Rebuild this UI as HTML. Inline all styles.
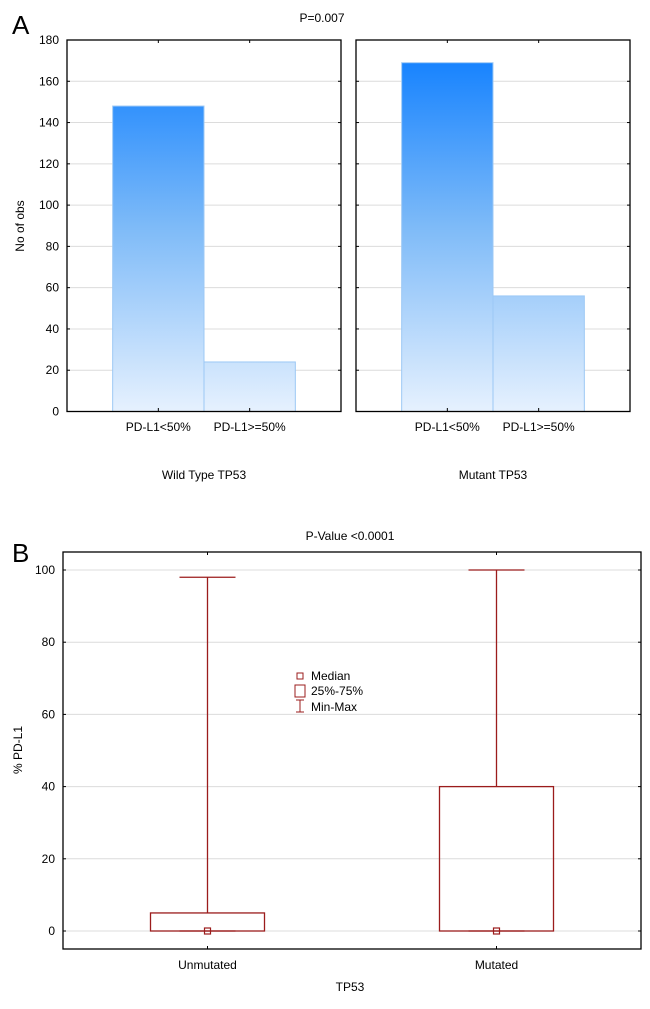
<!DOCTYPE html>
<html><head><meta charset="utf-8"><style>
body{margin:0;background:#fff;}
svg text{font-family:"Liberation Sans",Arial,sans-serif;fill:#000;}
</style></head><body>
<svg id="chart" width="650" height="1004" xmlns="http://www.w3.org/2000/svg">
<defs>
<linearGradient id="g" x1="0" y1="0" x2="0" y2="1" gradientUnits="userSpaceOnUse" x1v="0">
</linearGradient>
</defs>
<text x="12" y="34" font-size="26">A</text>
<text x="322" y="22" font-size="12" text-anchor="middle">P=0.007</text>
<text x="12" y="562" font-size="26">B</text>
<text x="350" y="540" font-size="12" text-anchor="middle">P-Value &lt;0.0001</text>
<g id="A"></g><g id="B"></g>
</svg>
<script>
const aCategories=["PD-L1<50%","PD-L1>=50%"];
const aGroups=["Wild Type TP53","Mutant TP53"];
const aWild=[148,24];
const aMutant=[169,56];
const aTicks=[0,20,40,60,80,100,120,140,160,180];
const bCategories=["Unmutated","Mutated"];
const bMin=[0,0];
const bQ1=[0,0];
const bMedian=[0,0];
const bQ3=[5,40];
const bMax=[98,100];
const bTicks=[0,20,40,60,80,100];
const NS="http://www.w3.org/2000/svg";
function mk(p,t,a,name,inter){const e=document.createElementNS(NS,t);for(const k in a)e.setAttribute(k,a[k]);


p.appendChild(e);return e;}
const svg=document.getElementById('chart');
const defs=svg.querySelector('defs');
const A=document.getElementById('A');
const yA=v=>411.5-(v/180)*371.5;
const frames=[[67,341],[356,630]];
const series=[aWild,aMutant];
// gradient
const gr=mk(defs,'linearGradient',{id:'barg',x1:0,y1:40,x2:0,y2:411.5,gradientUnits:'userSpaceOnUse'},'bar-gradient',false);
[[0,'#0a7cff'],[0.5,'#7dbaf8'],[1,'#e6f1fe']].forEach(s=>mk(gr,'stop',{offset:s[0],'stop-color':s[1]},'gradient-stop',false));
frames.forEach((f,i)=>{
 const [x0,x1]=f,w=x1-x0;
 aTicks.forEach(t=>{if(t>0&&t<180)mk(A,'line',{x1:x0,x2:x1,y1:yA(t),y2:yA(t),stroke:'#dcdcdc','stroke-width':1},'gridline',false);
  mk(A,'line',{x1:x0,x2:x0+3,y1:yA(t),y2:yA(t),stroke:'#000'},'y-tick',false);
  mk(A,'line',{x1:x1-3,x2:x1,y1:yA(t),y2:yA(t),stroke:'#000'},'y-tick',false);
  if(i==0){const tx=mk(A,'text',{x:x0-8,y:yA(t)+4,'font-size':12,'text-anchor':'end'},'y-tick-label',false);tx.textContent=t;}});
 const bw=w/3;
 series[i].forEach((v,j)=>{
  const bx=x0+w/6+j*bw;
  mk(A,'rect',{x:bx,y:yA(v),width:bw,height:yA(0)-yA(v),fill:'url(#barg)',stroke:'#9cc8f5','stroke-width':1},'bar-'+(i?'mutant':'wild')+'-'+j,false);
  const cx=bx+bw/2;
  mk(A,'line',{x1:cx,x2:cx,y1:411.5,y2:408,stroke:'#000'},'x-tick',false);
  mk(A,'line',{x1:cx,x2:cx,y1:40,y2:43,stroke:'#000'},'x-tick',false);
  const tx=mk(A,'text',{x:cx,y:431,'font-size':12,'text-anchor':'middle'},'x-tick-label',false);tx.textContent=aCategories[j];
 });
 mk(A,'rect',{x:x0,y:40,width:w,height:371.5,fill:'none',stroke:'#000','stroke-width':1.3},'plot-frame',false);
 const g=mk(A,'text',{x:x0+w/2,y:479,'font-size':12,'text-anchor':'middle'},'group-label',false);g.textContent=aGroups[i];
});
const yl=mk(A,'text',{x:24,y:226,'font-size':12,'text-anchor':'middle',transform:'rotate(-90 24 226)'},'y-axis-title',false);yl.textContent='No of obs';
// Panel B
const B=document.getElementById('B');
const bx0=63,bx1=641,by0=552,by1=949;
const yB=v=>931-(v/100)*361;
const xB=i=>bx0+(bx1-bx0)*(i*2+1)/4;
bTicks.forEach(t=>{mk(B,'line',{x1:bx0,x2:bx1,y1:yB(t),y2:yB(t),stroke:'#dcdcdc'},'gridline',false);
 mk(B,'line',{x1:bx0,x2:bx0+3,y1:yB(t),y2:yB(t),stroke:'#000'},'y-tick',false);
 mk(B,'line',{x1:bx1-3,x2:bx1,y1:yB(t),y2:yB(t),stroke:'#000'},'y-tick',false);
 const tx=mk(B,'text',{x:bx0-8,y:yB(t)+4,'font-size':12,'text-anchor':'end'},'y-tick-label',false);tx.textContent=t;});
const red='#9b1c1c';
bCategories.forEach((c,i)=>{
 const cx=xB(i),hw=57,ww=28;
 mk(B,'line',{x1:cx,x2:cx,y1:yB(bMax[i]),y2:yB(bQ3[i]),stroke:red,'stroke-width':1.3},'whisker',false);
 mk(B,'line',{x1:cx-ww,x2:cx+ww,y1:yB(bMax[i]),y2:yB(bMax[i]),stroke:red,'stroke-width':1.3},'whisker-cap-max',false);
 mk(B,'line',{x1:cx-ww,x2:cx+ww,y1:yB(bMin[i]),y2:yB(bMin[i]),stroke:red,'stroke-width':1.3},'whisker-cap-min',false);
 mk(B,'rect',{x:cx-hw,y:yB(bQ3[i]),width:hw*2,height:yB(bQ1[i])-yB(bQ3[i]),fill:'none',stroke:red,'stroke-width':1.3},'box-'+c.toLowerCase(),false);
 mk(B,'rect',{x:cx-3,y:yB(bMedian[i])-3,width:6,height:6,fill:'none',stroke:red,'stroke-width':1.2},'median-marker',false);
 mk(B,'line',{x1:cx,x2:cx,y1:by0,y2:by0+3,stroke:'#000'},'x-tick',false);
 mk(B,'line',{x1:cx,x2:cx,y1:by1,y2:by1-3,stroke:'#000'},'x-tick',false);
 const tx=mk(B,'text',{x:cx,y:969,'font-size':12,'text-anchor':'middle'},'x-tick-label',false);tx.textContent=c;
});
mk(B,'rect',{x:bx0,y:by0,width:bx1-bx0,height:by1-by0,fill:'none',stroke:'#000','stroke-width':1.3},'plot-frame',false);
const xt=mk(B,'text',{x:350,y:991,'font-size':12,'text-anchor':'middle'},'x-axis-title',false);xt.textContent='TP53';
const yt=mk(B,'text',{x:22,y:750,'font-size':12,'text-anchor':'middle',transform:'rotate(-90 22 750)'},'y-axis-title',false);yt.textContent='% PD-L1';
// legend
const L=mk(B,'g',{},'legend',false);
mk(L,'rect',{x:297,y:673,width:6,height:6,fill:'none',stroke:red},'legend-median-icon',false);
mk(L,'rect',{x:295,y:685,width:10,height:12,fill:'none',stroke:red},'legend-box-icon',false);
mk(L,'line',{x1:300,x2:300,y1:700,y2:712,stroke:red},'legend-minmax-icon',false);
mk(L,'line',{x1:296,x2:304,y1:700,y2:700,stroke:red},'legend-minmax-icon',false);
mk(L,'line',{x1:296,x2:304,y1:712,y2:712,stroke:red},'legend-minmax-icon',false);
[['Median',680],['25%-75%',695],['Min-Max',711]].forEach(l=>{const t=mk(L,'text',{x:311,y:l[1],'font-size':12},'legend-entry',false);t.textContent=l[0];});
</script>
</body></html>
